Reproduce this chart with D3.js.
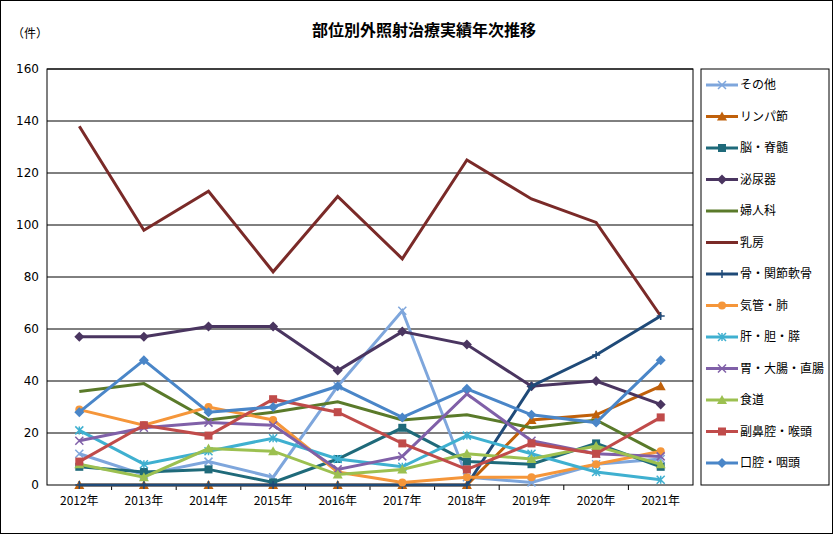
<!DOCTYPE html><html><head><meta charset="utf-8"><script src="https://cdn.jsdelivr.net/npm/d3@7"></script>
<style>body{margin:0;background:#fff}svg{font-family:"Noto Sans CJK JP","DejaVu Sans",sans-serif}</style></head><body><svg id="c" width="833" height="534"></svg><script>
const years=["2012年","2013年","2014年","2015年","2016年","2017年","2018年","2019年","2020年","2021年"];
const yTicks=[0,20,40,60,80,100,120,140,160];
const names=["その他","リンパ節","脳・脊髄","泌尿器","婦人科","乳房","骨・関節軟骨","気管・肺","肝・胆・膵","胃・大腸・直腸","食道","副鼻腔・喉頭","口腔・咽頭"];
const colors=["#7ea6dc","#c0600a","#1f6a7a","#4a3560","#5a7a2a","#7a2a28","#1f4a78","#f5963a","#3fb0d0","#8060a8","#9cc050","#c04b4a","#4a86c8"];
const markers=["x","tri","sq","dia","none","none","plus","circ","ast","x","tri","sq","dia"];
const s0=[12,4,9,3,38,67,3,1,8,10];
const s1=[0,0,0,0,0,0,0,25,27,38];
const s2=[7,5,6,1,10,22,9,8,16,7];
const s3=[57,57,61,61,44,59,54,38,40,31];
const s4=[36,39,25,28,32,25,27,22,25,12];
const s5=[138,98,113,82,111,87,125,110,101,65];
const s6=[0,0,0,0,0,0,0,38,50,65];
const s7=[29,23,30,25,5,1,3,3,8,13];
const s8=[21,8,13,18,10,7,19,12,5,2];
const s9=[17,22,24,23,6,11,35,17,12,11];
const s10=[8,3,14,13,4,6,12,10,15,8];
const s11=[9,23,19,33,28,16,6,16,12,26];
const s12=[28,48,28,30,38,26,37,27,24,48];
const series=[s0,s1,s2,s3,s4,s5,s6,s7,s8,s9,s10,s11,s12];
const svg=d3.select("#c");
svg.append("rect").attr("x",0.5).attr("y",0.5).attr("width",832).attr("height",533).attr("fill","#fff").attr("stroke","#000");
const L=47,R=693,T=69,B=485;
const x=d3.scaleBand().domain(years).range([L,R]);
const y=d3.scaleLinear().domain([0,160]).range([B,T]);
svg.append("text").attr("x",424).attr("y",36).attr("text-anchor","middle").attr("font-size",16).attr("font-weight","bold").text("部位別外照射治療実績年次推移");
svg.append("text").attr("x",12).attr("y",38).attr("font-size",12).text("（件）");
svg.append("rect").attr("x",L).attr("y",T).attr("width",R-L).attr("height",B-T).attr("fill","none").attr("stroke","#000");
const ga=svg.append("g").attr("transform",`translate(${L},0)`).call(d3.axisLeft(y).tickValues(yTicks).tickSize(0).tickPadding(8));
ga.select(".domain").remove();ga.selectAll("text").attr("font-size",12).attr("font-family","DejaVu Sans,sans-serif");
svg.append("g").selectAll("line").data(yTicks.slice(1)).join("line").attr("x1",L).attr("x2",R).attr("y1",d=>y(d)).attr("y2",d=>y(d)).attr("stroke","#000");
svg.append("g").selectAll("line").data(years.slice(1)).join("line").attr("x1",d=>x(d)).attr("x2",d=>x(d)).attr("y1",B).attr("y2",B+5).attr("stroke","#000");
svg.append("g").selectAll("text").data(years).join("text").attr("x",d=>x(d)+x.bandwidth()/2).attr("y",B+20).attr("text-anchor","middle").attr("font-size",12).text(d=>d);
const cx=i=>x(years[i])+x.bandwidth()/2;
function mark(g,m,c,px,py,s){
 if(m==="none")return;
 if(m==="x"){g.append("path").attr("d",`M${px-s},${py-s}L${px+s},${py+s}M${px-s},${py+s}L${px+s},${py-s}`).attr("stroke",c).attr("stroke-width",1.5);}
 else if(m==="plus"){g.append("path").attr("d",`M${px-s},${py}L${px+s},${py}M${px},${py-s}L${px},${py+s}`).attr("stroke",c).attr("stroke-width",1.5);}
 else if(m==="ast"){g.append("path").attr("d",`M${px-s},${py-s}L${px+s},${py+s}M${px-s},${py+s}L${px+s},${py-s}M${px},${py-s}L${px},${py+s}`).attr("stroke",c).attr("stroke-width",1.5);}
 else if(m==="sq")g.append("rect").attr("x",px-s).attr("y",py-s).attr("width",2*s).attr("height",2*s).attr("fill",c);
 else if(m==="circ")g.append("circle").attr("cx",px).attr("cy",py).attr("r",s).attr("fill",c);
 else if(m==="dia")g.append("path").attr("d",`M${px},${py-s-1}L${px+s+1},${py}L${px},${py+s+1}L${px-s-1},${py}Z`).attr("fill",c);
 else if(m==="tri")g.append("path").attr("d",`M${px},${py-s-1}L${px+s+1},${py+s}L${px-s-1},${py+s}Z`).attr("fill",c);
}
const line=d3.line().x((d,i)=>cx(i)).y(d=>y(d));
series.forEach((s,k)=>{
 const g=svg.append("g");
 g.append("path").attr("d",line(s)).attr("fill","none").attr("stroke",colors[k]).attr("stroke-width",3);
 s.forEach((v,i)=>mark(g,markers[k],colors[k],cx(i),y(v),4));
});
svg.append("rect").attr("x",701).attr("y",69).attr("width",128).attr("height",416).attr("fill","#fff").attr("stroke","#000");
names.forEach((n,k)=>{
 const yy=85+k*31.5;const g=svg.append("g");
 g.append("line").attr("x1",706).attr("x2",738).attr("y1",yy).attr("y2",yy).attr("stroke",colors[k]).attr("stroke-width",3);
 mark(g,markers[k],colors[k],722,yy,4);
 g.append("text").attr("x",740).attr("y",yy+4).attr("font-size",12).text(n);
});
</script></body></html>
